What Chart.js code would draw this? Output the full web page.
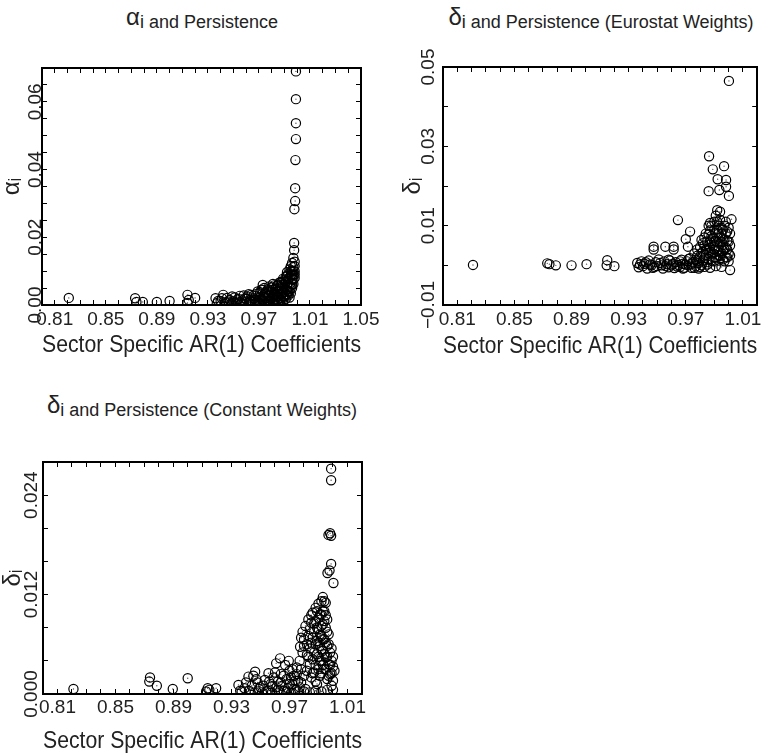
<!DOCTYPE html>
<html>
<head>
<meta charset="utf-8">
<script src="https://cdn.jsdelivr.net/npm/chart.js@4/dist/chart.umd.min.js"></script>
<style>
  body { margin: 0; width: 763px; height: 754px; position: relative; overflow: hidden; background: #fff;
         font-family: 'Liberation Sans Narrow', 'Liberation Sans', Arial, sans-serif; color: #222; }
  .panel { position: absolute; }
  .ttl { position: absolute; transform: translate(-50%, -50%); white-space: nowrap; font-size: 18px; }
  .ttl .g { font-size: 24px; position: relative; top: -3px; }
</style>
</head>
<body>
<div class="ttl" style="left:202px;top:20px"><span class="g">α</span>i and Persistence</div>
<div class="ttl" style="left:601px;top:20px"><span class="g">δ</span>i and Persistence (Eurostat Weights)</div>
<div class="ttl" style="left:202px;top:408px"><span class="g">δ</span>i and Persistence (Constant Weights)</div>

<div class="panel" style="left:0;top:0;width:380px;height:370px"><canvas id="c1"></canvas></div>
<div class="panel" style="left:380px;top:0;width:383px;height:370px"><canvas id="c2"></canvas></div>
<div class="panel" style="left:0;top:380px;width:380px;height:374px"><canvas id="c3"></canvas></div>

<script>
// --- data ---

// alpha_i vs AR(1)
const x1 = [0.821, 0.873, 0.874, 0.879, 0.890, 0.900, 0.914, 0.915, 0.920, 0.914,
  0.936, 0.937, 0.940, 0.942, 0.944, 0.945, 0.947, 0.948, 0.950, 0.951, 0.952, 0.953, 0.955, 0.955, 0.957, 0.958, 0.959, 0.960,
  0.961, 0.962, 0.963, 0.964, 0.965, 0.966, 0.967, 0.968, 0.969, 0.970, 0.971, 0.971, 0.972, 0.973, 0.973, 0.974, 0.974, 0.975,
  0.976, 0.976, 0.977, 0.978, 0.978, 0.979, 0.980, 0.980, 0.981, 0.981, 0.982, 0.982, 0.983, 0.984, 0.984, 0.985, 0.985, 0.986, 0.986, 0.987, 0.987, 0.988, 0.988, 0.989, 0.989, 0.990, 0.990,
  0.991, 0.991, 0.991, 0.992, 0.992, 0.992, 0.993, 0.993, 0.994, 0.994, 0.994, 0.995, 0.995, 0.995, 0.995, 0.996, 0.996, 0.996, 0.996, 0.997, 0.997, 0.997, 0.997, 0.998, 0.998, 0.998,
  0.938, 0.941, 0.943, 0.946, 0.949, 0.949, 0.954, 0.956, 0.958, 0.960, 0.962, 0.963, 0.964, 0.966, 0.967, 0.968, 0.969, 0.970, 0.971, 0.972,
  0.973, 0.974, 0.975, 0.975, 0.976, 0.977, 0.977, 0.978, 0.979, 0.979, 0.980, 0.981, 0.981, 0.982, 0.983, 0.983, 0.984, 0.984, 0.985, 0.985,
  0.986, 0.986, 0.987, 0.987, 0.988, 0.988, 0.989, 0.989, 0.989, 0.990, 0.990, 0.991, 0.991, 0.992, 0.992, 0.993, 0.993, 0.993, 0.994, 0.994,
  0.995, 0.995, 0.996, 0.996, 0.997, 0.997, 0.998, 0.998,
  0.9976, 0.9976, 0.9978, 0.9984, 0.9984, 0.9986, 0.9990, 0.9990, 0.9990, 0.9990];
const y1 = [0.0021, 0.0020, 0.0009, 0.0009, 0.0009, 0.0012, 0.0030, 0.0015, 0.0021, 0.0006,
  0.0020, 0.0005, 0.0012, 0.0030, 0.0008, 0.0021, 0.0015, 0.0004, 0.0010, 0.0022, 0.0006, 0.0016, 0.0027, 0.0009, 0.0013, 0.0004, 0.0020, 0.0010,
  0.0025, 0.0006, 0.0015, 0.0030, 0.0009, 0.0020, 0.0004, 0.0033, 0.0012, 0.0024, 0.0038, 0.0007, 0.0017, 0.0059, 0.0044, 0.0028, 0.0010, 0.0035,
  0.0020, 0.0005, 0.0046, 0.0030, 0.0012, 0.0040, 0.0022, 0.0052, 0.0062, 0.0008, 0.0034, 0.0016, 0.0048, 0.0026, 0.0056, 0.0010, 0.0040, 0.0066, 0.0020, 0.0068, 0.0032, 0.0050, 0.0014, 0.0060, 0.0038, 0.0026, 0.0072,
  0.0084, 0.0045, 0.0018, 0.0097, 0.0060, 0.0030, 0.0078, 0.0040, 0.0105, 0.0055, 0.0022, 0.0115, 0.0088, 0.0066, 0.0035, 0.0124, 0.0100, 0.0075, 0.0050, 0.0139, 0.0112, 0.0090, 0.0062, 0.0128, 0.0100, 0.0080,
  0.0012, 0.0020, 0.0004, 0.0010, 0.0025, 0.0006, 0.0018, 0.0005, 0.0028, 0.0018, 0.0032, 0.0003, 0.0012, 0.0028, 0.0015, 0.0008, 0.0040, 0.0004, 0.0022, 0.0045,
  0.0014, 0.0050, 0.0004, 0.0020, 0.0040, 0.0010, 0.0026, 0.0055, 0.0018, 0.0004, 0.0035, 0.0045, 0.0025, 0.0058, 0.0004, 0.0030, 0.0040, 0.0014, 0.0060, 0.0025,
  0.0048, 0.0006, 0.0058, 0.0016, 0.0068, 0.0036, 0.0078, 0.0024, 0.0008, 0.0050, 0.0038, 0.0068, 0.0030, 0.0085, 0.0045, 0.0092, 0.0065, 0.0028, 0.0080, 0.0040,
  0.0100, 0.0052, 0.0088, 0.0062, 0.0100, 0.0076, 0.0115, 0.0090,
  0.0183, 0.0162, 0.0283, 0.0307, 0.0345, 0.0428, 0.0490, 0.0537, 0.0608, 0.0690];

// delta_i (Eurostat weights) vs AR(1)
const x2 = [0.821, 0.873, 0.8745, 0.879, 0.890, 0.9005, 0.915, 0.9146, 0.920,
  0.936, 0.937, 0.939, 0.940, 0.941, 0.943, 0.944, 0.945, 0.9475, 0.9475, 0.947, 0.949, 0.950, 0.951, 0.953, 0.954, 0.955, 0.9557, 0.957, 0.958, 0.959, 0.960,
  0.9615, 0.9615, 0.962, 0.963, 0.9645, 0.965, 0.966, 0.967, 0.968, 0.969, 0.970, 0.9715, 0.971, 0.972, 0.973, 0.973, 0.974, 0.975,
  0.976, 0.977, 0.977, 0.978, 0.979, 0.979, 0.980, 0.981, 0.981, 0.982, 0.982, 0.983, 0.983, 0.984, 0.984, 0.985, 0.985, 0.986, 0.986, 0.987, 0.987, 0.987, 0.988, 0.988, 0.989, 0.989, 0.990, 0.990,
  0.991, 0.991, 0.992, 0.992, 0.992, 0.993, 0.993, 0.994, 0.994, 0.994, 0.995, 0.995, 0.996, 0.996, 0.997, 0.997, 0.998, 0.998, 0.999, 0.999, 1.000, 1.000, 1.001, 1.002, 1.001,
  0.938, 0.942, 0.946, 0.948, 0.952, 0.956, 0.958, 0.961, 0.964, 0.966, 0.968, 0.970, 0.972, 0.974, 0.976, 0.978, 0.978, 0.980, 0.980, 0.981,
  0.982, 0.983, 0.983, 0.984, 0.985, 0.985, 0.986, 0.986, 0.987, 0.987, 0.988, 0.988, 0.988, 0.989, 0.989, 0.990, 0.990, 0.990, 0.991, 0.991,
  0.991, 0.992, 0.992, 0.993, 0.993, 0.993, 0.994, 0.994, 0.995, 0.995, 0.995, 0.996, 0.996, 0.996, 0.997, 0.997, 0.998, 0.998, 0.999, 0.999,
  1.000, 1.000, 1.001, 1.001,
  0.9863, 0.9860, 0.9889, 0.9923, 0.9935, 0.9968, 0.9982, 0.9982, 1.0002, 1.0002];
const y2 = [0.0001, 0.0005, 0.0003, 0.0000, 0.0000, 0.0003, 0.0013, 0.0000, -0.0002,
  0.0006, -0.0005, 0.0010, -0.0002, 0.0004, -0.0008, 0.0012, 0.0002, 0.0047, 0.0040, -0.0006, 0.0008, -0.0002, 0.0015, 0.0000, -0.0008, 0.0010, 0.0047, 0.0003, -0.0005, 0.0012, 0.0000,
  0.0047, 0.0040, -0.0007, 0.0008, 0.0114, 0.0001, -0.0004, 0.0014, 0.0004, -0.0006, 0.0066, 0.0047, 0.0010, 0.0000, 0.0085, 0.0018, -0.0006, 0.0008,
  0.0030, -0.0002, 0.0014, 0.0040, 0.0006, -0.0008, 0.0022, 0.0064, 0.0000, 0.0035, 0.0012, 0.0050, -0.0004, 0.0026, 0.0080, 0.0008, 0.0042, 0.0100, 0.0016, 0.0060, -0.0006, 0.0107, 0.0030, 0.0074, 0.0010, 0.0048, 0.0090, 0.0020,
  0.0062, -0.0002, 0.0139, 0.0036, 0.0110, 0.0080, 0.0012, 0.0135, 0.0054, 0.0024, 0.0095, -0.0004, 0.0068, 0.0036, 0.0100, 0.0010, 0.0080, 0.0045, 0.0062, 0.0020, 0.0095, 0.0030, -0.0012, 0.0116, 0.0050,
  0.0002, 0.0008, 0.0000, -0.0004, 0.0006, -0.0002, 0.0014, 0.0004, -0.0003, 0.0010, -0.0008, 0.0002, 0.0016, 0.0004, -0.0006, 0.0010, 0.0024, -0.0004, 0.0046, 0.0030,
  0.0056, 0.0018, 0.0070, 0.0040, 0.0002, 0.0060, 0.0032, 0.0078, 0.0044, 0.0088, 0.0012, 0.0056, 0.0100, 0.0068, 0.0030, 0.0040, 0.0110, 0.0060, 0.0082, 0.0020,
  0.0125, 0.0058, 0.0090, 0.0040, 0.0100, 0.0026, 0.0070, 0.0115, 0.0030, 0.0060, 0.0080, 0.0015, 0.0052, 0.0090, 0.0040, 0.0065, 0.0020, 0.0110, 0.0085, 0.0040,
  0.0060, 0.0010, 0.0080, 0.0025,
  0.0275, 0.0187, 0.0242, 0.0217, 0.0190, 0.0250, 0.0215, 0.0198, 0.0175, 0.0465];

// delta_i (constant weights) vs AR(1)
const x3 = [0.821, 0.8738, 0.8733, 0.8785, 0.8895, 0.8998, 0.9136, 0.9147, 0.9194, 0.9125,
  0.9348, 0.937, 0.939, 0.9417, 0.942, 0.944, 0.9451, 0.9463, 0.946, 0.948, 0.949, 0.951, 0.952, 0.953, 0.9555, 0.955, 0.957, 0.958, 0.959, 0.9608,
  0.9635, 0.961, 0.962, 0.963, 0.964, 0.965, 0.967, 0.9695, 0.966, 0.968, 0.969, 0.970, 0.971, 0.972, 0.973, 0.974, 0.975, 0.976, 0.9773, 0.977,
  0.978, 0.979, 0.980, 0.981, 0.982, 0.983, 0.983, 0.984, 0.985, 0.985, 0.986, 0.986, 0.987, 0.987, 0.988, 0.988, 0.988, 0.989, 0.989, 0.990, 0.990, 0.990, 0.990, 0.991, 0.991,
  0.992, 0.992, 0.992, 0.992, 0.993, 0.993, 0.993, 0.994, 0.994, 0.994, 0.995, 0.995, 0.995, 0.996, 0.996, 0.996, 0.997, 0.997, 0.998, 0.998, 0.999, 0.999, 1.000, 1.000, 1.001,
  0.980, 0.984, 0.988, 0.992, 0.996,
  0.936, 0.940, 0.943, 0.947, 0.950, 0.954, 0.956, 0.958, 0.960, 0.962, 0.964, 0.966, 0.968, 0.970, 0.971, 0.972, 0.973, 0.974, 0.975, 0.976,
  0.977, 0.978, 0.978, 0.979, 0.980, 0.980, 0.981, 0.982, 0.982, 0.983, 0.984, 0.984, 0.985, 0.985, 0.986, 0.986, 0.987, 0.987, 0.988, 0.988,
  0.989, 0.989, 0.989, 0.990, 0.990, 0.991, 0.991, 0.991, 0.992, 0.992, 0.992, 0.993, 0.993, 0.993, 0.994, 0.994, 0.994, 0.995, 0.995, 0.995,
  0.996, 0.996, 0.997, 0.997, 0.998, 0.999, 0.999, 1.000, 1.000,
  0.9962, 0.9976, 0.9987, 1.0003, 0.9969, 0.9980, 0.9987, 0.9987, 0.9987];
const y3 = [0.0006, 0.0020, 0.0015, 0.0010, 0.0006, 0.0019, 0.0007, 0.0005, 0.0007, 0.0003,
  0.0011, 0.0003, 0.0007, 0.0021, 0.0004, 0.0010, 0.0022, 0.0027, 0.0002, 0.0014, 0.0006, 0.0002, 0.0010, 0.0017, 0.0025, 0.0004, 0.0012, 0.0002, 0.0020, 0.0037,
  0.0043, 0.0008, 0.0015, 0.0002, 0.0024, 0.0010, 0.0035, 0.0040, 0.0004, 0.0018, 0.0007, 0.0028, 0.0001, 0.0012, 0.0022, 0.0005, 0.0032, 0.0016, 0.0057, 0.0008,
  0.0068, 0.0075, 0.0058, 0.0082, 0.0047, 0.0090, 0.0070, 0.0036, 0.0086, 0.0062, 0.0098, 0.0025, 0.0075, 0.0050, 0.0104, 0.0088, 0.0035, 0.0064, 0.0012, 0.0109, 0.0092, 0.0078, 0.0045, 0.0058, 0.0022,
  0.0112, 0.0096, 0.0070, 0.0040, 0.0117, 0.0084, 0.0052, 0.0100, 0.0066, 0.0030, 0.0110, 0.0080, 0.0044, 0.0090, 0.0058, 0.0018, 0.0072, 0.0036, 0.0050, 0.0024, 0.0040, 0.0010, 0.0033, 0.0016, 0.0028,
  0.0003, 0.0002, 0.0004, 0.0003, 0.0005,
  0.0004, 0.0014, 0.0002, 0.0018, 0.0008, 0.0003, 0.0015, 0.0009, 0.0026, 0.0005, 0.0014, 0.0022, 0.0003, 0.0012, 0.0020, 0.0030, 0.0006, 0.0016, 0.0024, 0.0003,
  0.0040, 0.0014, 0.0030, 0.0050, 0.0022, 0.0066, 0.0006, 0.0060, 0.0028, 0.0045, 0.0078, 0.0055, 0.0020, 0.0095, 0.0068, 0.0042, 0.0085, 0.0026, 0.0060, 0.0015,
  0.0080, 0.0048, 0.0100, 0.0030, 0.0062, 0.0096, 0.0072, 0.0040, 0.0082, 0.0054, 0.0025, 0.0100, 0.0066, 0.0035, 0.0112, 0.0088, 0.0048, 0.0095, 0.0062, 0.0030,
  0.0075, 0.0045, 0.0060, 0.0022, 0.0035, 0.0055, 0.0025, 0.0045, 0.0005,
  0.0146, 0.0149, 0.0157, 0.0134, 0.0192, 0.0194, 0.0191, 0.0272, 0.0258];

// ticks and tick labels
const xTicksWide = [0.80, 0.81, 0.82, 0.83, 0.84, 0.85, 0.86, 0.87, 0.88, 0.89, 0.90, 0.91, 0.92, 0.93, 0.94,
  0.95, 0.96, 0.97, 0.98, 0.99, 1.00, 1.01, 1.02, 1.03, 1.04, 1.05];
const xTicksNarrow = [0.80, 0.81, 0.82, 0.83, 0.84, 0.85, 0.86, 0.87, 0.88, 0.89, 0.90, 0.91, 0.92, 0.93, 0.94,
  0.95, 0.96, 0.97, 0.98, 0.99, 1.00, 1.01, 1.02];
const xLabelsWide = ['0.81', '0.85', '0.89', '0.93', '0.97', '1.01', '1.05'];
const xLabelsNarrow = ['0.81', '0.85', '0.89', '0.93', '0.97', '1.01'];

const yTicks1 = [0, 0.005, 0.01, 0.015, 0.02, 0.025, 0.03, 0.035, 0.04, 0.045, 0.05, 0.055, 0.06, 0.065, 0.07];
const yLabels1 = ['0.00', '0.02', '0.04', '0.06'];
const yTicks2 = [-0.01, 0, 0.01, 0.02, 0.03, 0.04, 0.05];
const yLabels2 = ['-0.01', '0.01', '0.03', '0.05'];
const yTicks3 = [0, 0.004, 0.008, 0.012, 0.016, 0.020, 0.024, 0.028];
const yLabels3 = ['0.000', '0.012', '0.024'];

const xTitle = 'Sector Specific AR(1) Coefficients';

// --- helpers ---
const FONT = "'Liberation Sans Narrow', 'Liberation Sans', Arial, sans-serif";
const INK = '#222';
const TICK_LEN = -5; // negative = ticks point into the box

function sizeFix(size) {
  return s => {
    if (s.isHorizontal()) s.height = size; else s.width = size;
    s.paddingLeft = s.paddingRight = s.paddingTop = s.paddingBottom = 0;
  };
}

// only the listed values get a label, the other ticks stay bare
function labelFn(labels) {
  return v => {
    const hit = labels.find(l => Math.abs(parseFloat(l) - v) < 1e-9);
    return hit ? hit.replace('-', '\u2212') : '';
  };
}

function axis(position, min, max, tickVals, size, extra) {
  const a = {
    type: 'linear', position, min, max,
    afterBuildTicks: s => { s.ticks = tickVals.map(v => ({ value: v })); },
    afterFit: sizeFix(size),
    grid: { drawOnChartArea: false, drawTicks: true, tickLength: TICK_LEN, color: '#000', lineWidth: 1 },
    border: { display: true, color: '#000', width: 2 },
    ticks: { display: false, autoSkip: false }
  };
  return Object.assign(a, extra || {});
}

function makeChart(id, xs, ys, p) {
  const pts = xs.map((v, i) => ({ x: v, y: ys[i] }));
  return new Chart(document.getElementById(id), {
    type: 'scatter',
    data: {
      datasets: [{
        data: pts,
        pointStyle: 'circle',
        pointRadius: 4.6,
        pointBorderWidth: 1.2,
        pointBorderColor: '#000',
        pointBackgroundColor: 'rgba(0,0,0,0)'
      }, {
        data: pts,
        pointRadius: 0.7,
        pointBorderWidth: 0,
        pointBackgroundColor: '#555'
      }]
    },
    options: {
      responsive: true,
      maintainAspectRatio: false,
      animation: false,
      devicePixelRatio: 1,
      layout: { padding: 0 },
      plugins: { legend: { display: false }, tooltip: { enabled: false } },
      scales: {
        x: axis('bottom', p.xmin, p.xmax, p.xTicks, p.bottom, {
          ticks: {
            display: true, autoSkip: false, maxRotation: 0, minRotation: 0, padding: p.xPad,
            color: INK, font: { family: FONT, size: 19, lineHeight: 1 },
            callback: labelFn(p.xLabels)
          },
          title: {
            display: true, text: xTitle, color: INK,
            font: { family: FONT, size: 24, lineHeight: 1 },
            padding: { top: 0, bottom: p.xTitlePad }
          }
        }),
        x2: axis('top', p.xmin, p.xmax, p.xTicks, p.top),
        y: axis('left', p.ymin, p.ymax, p.yTicks, p.left, {
          ticks: {
            display: true, autoSkip: false, minRotation: 90, maxRotation: 90,
            crossAlign: 'center', padding: p.yPad,
            color: INK, font: { family: FONT, size: 19, lineHeight: 1 },
            callback: labelFn(p.yLabels)
          },
          title: {
            display: true, text: p.yTitle, color: INK,
            font: { family: FONT, size: 24, lineHeight: 1 },
            padding: { top: p.yTitlePad, bottom: 0 }
          }
        }),
        y2: axis('right', p.ymin, p.ymax, p.yTicks, p.right)
      }
    }
  });
}

makeChart('c1', x1, y1, {
  xmin: 0.80, xmax: 1.05, xTicks: xTicksWide, xLabels: xLabelsWide,
  ymin: 0, ymax: 0.07, yTicks: yTicks1, yLabels: yLabels1, yTitle: 'α\u1d62',
  left: 42, right: 19, top: 68, bottom: 65, xPad: 10, xTitlePad: 13, yPad: -7, yTitlePad: 0
});

makeChart('c2', x2, y2, {
  xmin: 0.80, xmax: 1.02, xTicks: xTicksNarrow, xLabels: xLabelsNarrow,
  ymin: -0.01, ymax: 0.05, yTicks: yTicks2, yLabels: yLabels2, yTitle: 'δ\u1d62',
  left: 63, right: 3, top: 67, bottom: 65, xPad: 10, xTitlePad: 12, yPad: -5, yTitlePad: 21
});

makeChart('c3', x3, y3, {
  xmin: 0.80, xmax: 1.02, xTicks: xTicksNarrow, xLabels: xLabelsNarrow,
  ymin: 0, ymax: 0.028, yTicks: yTicks3, yLabels: yLabels3, yTitle: 'δ\u1d62',
  left: 43, right: 18, top: 82, bottom: 60, xPad: 9, xTitlePad: 1, yPad: -8, yTitlePad: 1
});
</script>
</body>
</html>
